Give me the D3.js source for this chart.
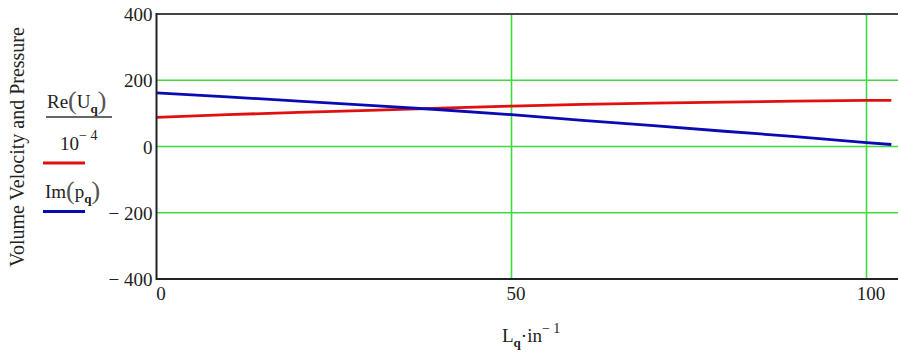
<!DOCTYPE html>
<html>
<head>
<meta charset="utf-8">
<script src="https://cdn.jsdelivr.net/npm/d3@7"></script>
<style>
  body { margin: 0; background: #fff; }
  svg { display: block; }
  text { font-family: "Liberation Serif", "Times New Roman", serif; fill: #222; }
</style>
</head>
<body>
<svg id="chart" width="898" height="353"></svg>
<script>
// Sample positions along the quarter-wave section (inches)
const xPositions = [0, 10, 20, 30, 40, 50, 60, 70, 80, 90, 100, 103.5];
// Re(Uq) / 1e-4
const reUqScaled = [88, 96, 103, 109, 116, 122, 127, 131, 134, 137, 139, 139];
// Im(pq)
const imPq = [162, 150, 137, 124, 111, 96, 79, 63, 46, 30, 12, 6];

const xTicks = [0, 50, 100];
const yTicks = [-400, -200, 0, 200, 400];
const xGrid = [50, 100];
const yGrid = [-200, 0, 200];

const svg = d3.select("#chart");
const plot = { left: 156.5, top: 14, bottom: 279 };

const x = d3.scaleLinear().domain([0, 104.5]).range([plot.left, plot.left + 104.5 * 7.1]);
const y = d3.scaleLinear().domain([-400, 400]).range([plot.bottom, plot.top]);

const gridColor = "#3ddc3d";

// grid lines
svg.append("g").selectAll("line.h").data(yGrid).join("line")
  .attr("x1", x(0)).attr("x2", x(104.5))
  .attr("y1", d => y(d)).attr("y2", d => y(d))
  .attr("stroke", gridColor).attr("stroke-width", 1.6);
svg.append("g").selectAll("line.v").data(xGrid).join("line")
  .attr("x1", d => x(d)).attr("x2", d => x(d))
  .attr("y1", y(400)).attr("y2", y(-400))
  .attr("stroke", gridColor).attr("stroke-width", 1.6);

// series
const line = d3.line().x((d, i) => x(xPositions[i])).y(d => y(d));
svg.append("path").datum(reUqScaled)
  .attr("d", line).attr("fill", "none")
  .attr("stroke", "#e01010").attr("stroke-width", 2.8);
svg.append("path").datum(imPq)
  .attr("d", line).attr("fill", "none")
  .attr("stroke", "#0a0ab4").attr("stroke-width", 2.8);

// frame
svg.append("line").attr("x1", x(0)).attr("x2", x(104.5)).attr("y1", y(400)).attr("y2", y(400))
  .attr("stroke", "#444").attr("stroke-width", 2);
svg.append("line").attr("x1", x(0)).attr("x2", x(104.5)).attr("y1", y(-400)).attr("y2", y(-400))
  .attr("stroke", "#222").attr("stroke-width", 2);
svg.append("line").attr("x1", x(0)).attr("x2", x(0)).attr("y1", y(400) - 1).attr("y2", y(-400) + 1)
  .attr("stroke", "#222").attr("stroke-width", 2);

// y axis labels
const yAxis = d3.axisLeft(y).tickValues(yTicks).tickSize(0).tickPadding(4)
  .tickFormat(d => d < 0 ? "\u2212 " + Math.abs(d) : String(d));
const gy = svg.append("g").attr("transform", `translate(${x(0)},0)`).call(yAxis);
gy.select(".domain").remove();
gy.attr("font-family", null);
gy.selectAll("text").attr("font-size", 19).attr("fill", "#222").attr("dy", "0.35em");

// x axis labels
const xAxis = d3.axisBottom(x).tickValues(xTicks).tickSize(0).tickPadding(8);
const gx = svg.append("g").attr("transform", `translate(4,${y(-400)})`).call(xAxis);
gx.select(".domain").remove();
gx.attr("font-family", null);
gx.selectAll("text").attr("font-size", 19).attr("fill", "#222");

// y axis title
svg.append("text")
  .attr("transform", "translate(24,147) rotate(-90)")
  .attr("text-anchor", "middle").attr("font-size", 20)
  .text("Volume Velocity and Pressure");

// x axis title: Lq·in^-1
const xt = svg.append("text").attr("x", 502).attr("y", 342).attr("font-size", 19);
xt.append("tspan").text("L");
xt.append("tspan").attr("font-size", 13).attr("dy", 5).attr("font-weight", "bold").text("q");
xt.append("tspan").attr("dy", -5).text("\u00b7in");
xt.append("tspan").attr("font-size", 14).attr("dy", -9).text("\u2212 1");

// legend: Re(Uq) / 10^-4
const l1 = svg.append("text").attr("x", 47).attr("y", 108).attr("font-size", 19);
l1.append("tspan").text("Re");
l1.append("tspan").attr("font-size", 26).attr("dy", 1).attr("fill", "#555").text("(");
l1.append("tspan").attr("dy", -1).text("U");
l1.append("tspan").attr("font-size", 13).attr("dy", 5).attr("font-weight", "bold").text("q");
l1.append("tspan").attr("font-size", 26).attr("dy", -4).attr("fill", "#555").text(")");
svg.append("line").attr("x1", 46).attr("x2", 112).attr("y1", 117).attr("y2", 117)
  .attr("stroke", "#333").attr("stroke-width", 1.5);
const l1b = svg.append("text").attr("x", 60).attr("y", 150).attr("font-size", 19);
l1b.append("tspan").text("10");
l1b.append("tspan").attr("font-size", 14).attr("dy", -10).text("\u2212 4");
svg.append("line").attr("x1", 43).attr("x2", 85).attr("y1", 163).attr("y2", 163)
  .attr("stroke", "#e01010").attr("stroke-width", 2.8);

// legend: Im(pq)
const l2 = svg.append("text").attr("x", 45).attr("y", 198).attr("font-size", 19);
l2.append("tspan").text("Im");
l2.append("tspan").attr("font-size", 26).attr("dy", 1).attr("fill", "#555").text("(");
l2.append("tspan").attr("dy", -1).text("p");
l2.append("tspan").attr("font-size", 13).attr("dy", 5).attr("font-weight", "bold").text("q");
l2.append("tspan").attr("font-size", 26).attr("dy", -4).attr("fill", "#555").text(")");
svg.append("line").attr("x1", 43).attr("x2", 85).attr("y1", 211.5).attr("y2", 211.5)
  .attr("stroke", "#0a0ab4").attr("stroke-width", 2.8);
</script>
</body>
</html>
